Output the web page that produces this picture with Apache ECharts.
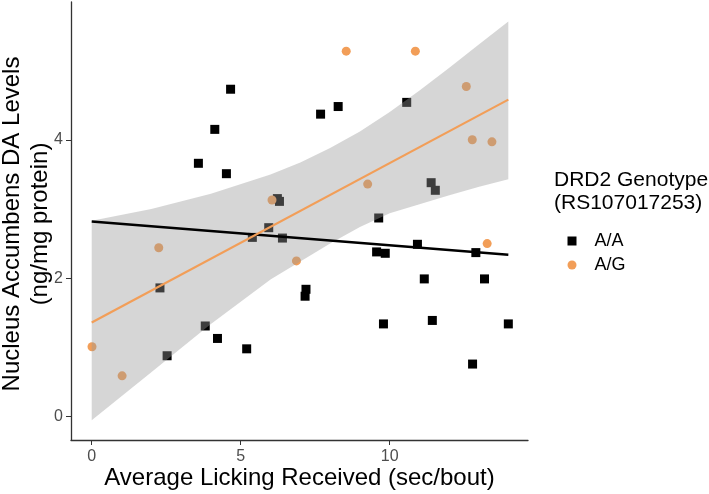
<!DOCTYPE html>
<html>
<head>
<meta charset="utf-8">
<script src="https://cdn.jsdelivr.net/npm/echarts@6/dist/echarts.min.js"></script>
<style>
html,body{margin:0;padding:0;background:#fff;}
#chart{width:709px;height:494px;}
</style>
</head>
<body>
<div id="chart"></div>
<script>
// A/A genotype (black squares)
var aaX = [4.66,4.13,3.58,4.52,6.23,6.30,5.94,5.39,6.40,2.29,3.81,4.22,2.53,5.20,10.57,7.68,8.27,11.39,11.53,9.63,10.93,9.56,9.85,12.89,7.19,7.16,11.16,13.18,9.79,11.43,13.98,12.78];
var aaY = [4.73,4.15,3.66,3.51,3.15,3.11,2.73,2.59,2.58,1.86,1.31,1.13,0.88,0.98,4.54,4.37,4.48,3.38,3.27,2.87,2.49,2.38,2.36,2.37,1.84,1.74,1.99,1.99,1.34,1.39,1.34,0.76];
// A/G genotype (orange circles)
var agX = [0.01,1.02,2.25,6.05,6.87,8.54,10.86,12.57,12.77,13.43,9.26,13.27];
var agY = [1.01,0.59,2.44,3.13,2.25,5.28,5.28,4.77,4.00,3.97,3.36,2.50];
// fitted lines (endpoints)
var aaFitX = [0, 13.98];
var aaFitY = [2.82, 2.34];
var agFitX = [0, 13.98];
var agFitY = [1.36, 4.58];
// confidence band of the A/G fit
var bandX = [0,2,4,6,7,8,9,10,11,12,13,13.98];
var bandUpper = [2.83,3.00,3.22,3.50,3.67,3.88,4.12,4.40,4.71,5.04,5.38,5.71];
var bandLower = [-0.05,0.64,1.34,1.98,2.24,2.50,2.74,2.94,3.07,3.20,3.32,3.43];
// ticks
var xTicks = [0, 5, 10];
var yTicks = [0, 2, 4];
var groups = ['A/A', 'A/G'];

var FONT = '"Liberation Sans", Arial, Helvetica, sans-serif';
var ORANGE = '#f29e58';

function pairs(xs, ys){ return xs.map(function(x,i){ return [x, ys[i]]; }); }

var chart = echarts.init(document.getElementById('chart'), null, {renderer:'canvas'});
chart.setOption({
  animation: false,
  backgroundColor: '#fff',
  textStyle: {fontFamily: FONT},
  grid: {left: 71, right: 181, top: 2, bottom: 54},
  xAxis: {
    type: 'value', min: -0.695, max: 14.64,
    splitLine: {show: false},
    axisLine: {onZero: false, lineStyle: {color: '#333', width: 1.3}},
    axisTick: {customValues: xTicks, length: 5, lineStyle: {color: '#333', width: 1}},
    axisLabel: {customValues: xTicks, color: '#4d4d4d', fontSize: 16, margin: 9, fontFamily: FONT}
  },
  yAxis: {
    type: 'value', min: -0.337, max: 5.99,
    splitLine: {show: false},
    axisLine: {show: true, onZero: false, lineStyle: {color: '#333', width: 1.3}},
    axisTick: {show: true, customValues: yTicks, length: 5, lineStyle: {color: '#333', width: 1}},
    axisLabel: {customValues: yTicks, color: '#4d4d4d', fontSize: 16, margin: 8, fontFamily: FONT}
  },
  legend: {
    orient: 'vertical', left: 562.5, top: 227,
    itemWidth: 9, itemHeight: 9, itemGap: 6,
    data: [{name: groups[0], icon: 'rect'}, {name: groups[1], icon: 'circle'}],
    textStyle: {fontSize: 18, color: '#000', fontFamily: FONT, padding: [0,0,0,13]}
  },
  graphic: [
    {type: 'text', x: 299.5, y: 478, style: {text: 'Average Licking Received (sec/bout)', font: '24px ' + FONT, fill: '#000', textAlign: 'center', textVerticalAlign: 'middle'}},
    {type: 'text', x: 12, y: 224, rotation: Math.PI/2, style: {text: 'Nucleus Accumbens DA Levels', font: '24px ' + FONT, fill: '#000', textAlign: 'center', textVerticalAlign: 'middle'}},
    {type: 'text', x: 40, y: 224, rotation: Math.PI/2, style: {text: '(ng/mg protein)', font: '24px ' + FONT, fill: '#000', textAlign: 'center', textVerticalAlign: 'middle'}},
    {type: 'text', x: 554, y: 180, style: {text: 'DRD2 Genotype', font: '21px ' + FONT, fill: '#000', textAlign: 'left', textVerticalAlign: 'middle'}},
    {type: 'text', x: 554, y: 203, style: {text: '(RS107017253)', font: '21px ' + FONT, fill: '#000', textAlign: 'left', textVerticalAlign: 'middle'}}
  ],
  series: [
    {name: groups[0], type: 'scatter', symbol: 'rect', symbolSize: 9, z: 2,
     itemStyle: {color: '#000', opacity: 1}, data: pairs(aaX, aaY)},
    {name: groups[1], type: 'scatter', symbol: 'circle', symbolSize: 9, z: 2,
     itemStyle: {color: ORANGE, opacity: 1}, data: pairs(agX, agY)},
    {name: 'band', type: 'custom', z: 3, silent: true,
     data: bandX.map(function(x,i){ return [x, bandLower[i], bandUpper[i]]; }),
     encode: {x: 0, y: [1,2]},
     renderItem: function(params, api){
       if (params.dataIndex !== 0) return;
       var pts = [];
       for (var i = 0; i < bandX.length; i++) pts.push(api.coord([bandX[i], bandUpper[i]]));
       for (var j = bandX.length - 1; j >= 0; j--) pts.push(api.coord([bandX[j], bandLower[j]]));
       return {type: 'polygon', shape: {points: pts}, style: {fill: 'rgba(153,153,153,0.4)'}};
     }},
    {name: 'fitAA', type: 'line', z: 4, symbol: 'none', silent: true,
     lineStyle: {color: '#000', width: 2.5}, data: pairs(aaFitX, aaFitY)},
    {name: 'fitAG', type: 'line', z: 4, symbol: 'none', silent: true,
     lineStyle: {color: ORANGE, width: 2.2}, data: pairs(agFitX, agFitY)}
  ]
});
</script>
</body>
</html>
